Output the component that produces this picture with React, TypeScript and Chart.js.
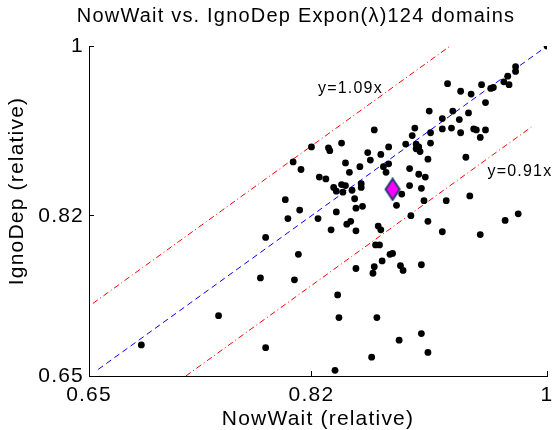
import React, { useEffect, useRef } from 'react';
import { Chart, registerables } from 'chart.js';

Chart.register(...registerables);

const titleText = 'NowWait vs. IgnoDep Expon(λ)124 domains';
const xLabel = 'NowWait (relative)';
const yLabel = 'IgnoDep (relative)';
const tickValues = [0.65, 0.82, 1];
const tickLabels = ['0.65', '0.82', '1'];

// NowWait (x) and IgnoDep (y) relative values, one entry per domain
const nowWait = [
  1.0, 0.976, 0.976, 0.97, 0.967, 0.971, 0.95, 0.924, 0.959, 0.957,
  0.934, 0.942, 0.953, 0.91, 0.928, 0.94, 0.92, 0.933, 0.899, 0.92,
  0.927, 0.944, 0.946, 0.953, 0.868, 0.934, 0.911, 0.897, 0.949, 0.892,
  0.911, 0.843, 0.9, 0.902, 0.82, 0.833, 0.834, 0.879, 0.9, 0.903,
  0.863, 0.873, 0.865, 0.909, 0.938, 0.812, 0.857, 0.879, 0.875, 0.846,
  0.849, 0.895, 0.826, 0.831, 0.877, 0.902, 0.907, 0.837, 0.843, 0.846,
  0.858, 0.895, 0.839, 0.844, 0.851, 0.858, 0.904, 0.889, 0.941, 0.923,
  0.906, 0.853, 0.885, 0.859, 0.854, 0.839, 0.978, 0.968, 0.825, 0.85,
  0.847, 0.909, 0.896, 0.835, 0.854, 0.871, 0.873, 0.92, 0.949, 0.81,
  0.869, 0.872, 0.88, 0.882, 0.874, 0.904, 0.854, 0.868, 0.867, 0.888,
  0.89, 0.84, 0.841, 0.87, 0.904, 0.887, 0.909, 0.866, 0.838, 0.8,
  0.811, 0.802, 0.785, 0.781, 0.807, 0.749, 0.69, 0.785, 0.806,
];
const ignoDep = [
  1.0, 0.978, 0.973, 0.968, 0.962, 0.959, 0.959, 0.96, 0.956, 0.955,
  0.952, 0.949, 0.94, 0.931, 0.931, 0.929, 0.923, 0.922, 0.913, 0.912,
  0.913, 0.912, 0.911, 0.911, 0.911, 0.908, 0.908, 0.905, 0.903, 0.896,
  0.897, 0.897, 0.896, 0.893, 0.893, 0.892, 0.889, 0.893, 0.891, 0.888,
  0.887, 0.885, 0.879, 0.88, 0.882, 0.869, 0.872, 0.875, 0.872, 0.876,
  0.866, 0.87, 0.861, 0.859, 0.866, 0.864, 0.861, 0.85, 0.853, 0.852,
  0.854, 0.852, 0.846, 0.845, 0.847, 0.85, 0.849, 0.843, 0.841, 0.836,
  0.836, 0.838, 0.831, 0.83, 0.828, 0.824, 0.822, 0.815, 0.817, 0.814,
  0.811, 0.814, 0.82, 0.805, 0.804, 0.809, 0.805, 0.803, 0.8, 0.779,
  0.789, 0.789, 0.779, 0.78, 0.772, 0.768, 0.764, 0.766, 0.759, 0.767,
  0.762, 0.736, 0.712, 0.712, 0.695, 0.688, 0.675, 0.67, 0.656, 0.837,
  0.826, 0.817, 0.797, 0.754, 0.752, 0.714, 0.683, 0.68, 0.877,
];

// mean point (magenta diamond)
const meanX = [0.882];
const meanY = [0.848];

// reference lines
const diagX = [0.657, 1.0];
const diagY = [0.657, 1.0];
const upperX = [0.653, 0.926];
const upperY = [0.727, 1.0];
const lowerX = [0.724, 0.988];
const lowerY = [0.65, 0.914];

const upperText = 'y=1.09x';
const upperTextAt = [0.825, 0.9505];
const lowerText = 'y=0.91x';
const lowerTextAt = [0.9545, 0.862];

const FONT = '"Liberation Sans", Arial, Helvetica, sans-serif';

const toPts = (xs: number[], ys: number[]) => xs.map((x, i) => ({ x, y: ys[i] }));

const textPlugin = {
  id: 'matlabText',
  beforeDraw(chart: any) {
    (chart.ctx as any).letterSpacing = '1.2px';
  },
  afterDraw(chart: any) {
    const ctx = chart.ctx as CanvasRenderingContext2D;
    const xs = chart.scales.x;
    const ys = chart.scales.y;
    const ca = chart.chartArea;
    ctx.save();
    (ctx as any).letterSpacing = '1.2px';
    ctx.fillStyle = '#000';
    // title
    ctx.font = `20px ${FONT}`;
    ctx.textAlign = 'center';
    ctx.textBaseline = 'alphabetic';
    ctx.fillText(titleText, (ca.left + ca.right) / 2 - 22, 22);
    // y label
    ctx.save();
    ctx.translate(23, (ca.top + ca.bottom) / 2 - 20);
    ctx.rotate(-Math.PI / 2);
    ctx.font = `21px ${FONT}`;
    ctx.fillText(yLabel, 0, 0);
    ctx.restore();
    // line labels
    ctx.font = `16px ${FONT}`;
    ctx.textAlign = 'left';
    ctx.fillText(upperText, xs.getPixelForValue(upperTextAt[0]), ys.getPixelForValue(upperTextAt[1]));
    ctx.fillText(lowerText, xs.getPixelForValue(lowerTextAt[0]), ys.getPixelForValue(lowerTextAt[1]));
    ctx.restore();
  },
};

export default function App() {
  const ref = useRef<HTMLCanvasElement>(null);
  useEffect(() => {
    const canvas = ref.current!;
    const diamond = document.createElement('canvas');
    diamond.width = 18;
    diamond.height = 24;
    const d = diamond.getContext('2d')!;
    d.beginPath();
    d.moveTo(9, 1.5);
    d.lineTo(16, 12);
    d.lineTo(9, 22.5);
    d.lineTo(2, 12);
    d.closePath();
    d.fillStyle = '#ff00ff';
    d.fill();
    d.lineWidth = 2;
    d.strokeStyle = '#1b3a6b';
    d.stroke();

    const tickCb = (v: any) => {
      const i = tickValues.findIndex((t) => Math.abs(t - Number(v)) < 1e-9);
      return i >= 0 ? tickLabels[i] : '';
    };

    const chart = new Chart(canvas, {
      type: 'scatter',
      data: {
        datasets: [
          {
            label: 'mean',
            data: toPts(meanX, meanY),
            pointStyle: diamond as any,
            pointRadius: 10,
            order: 0,
          },
          {
            label: 'domains',
            data: toPts(nowWait, ignoDep),
            backgroundColor: '#000',
            borderColor: '#000',
            borderWidth: 0,
            pointRadius: 3.4,
            order: 1,
          },
          {
            label: 'y=x',
            data: toPts(diagX, diagY),
            showLine: true,
            pointRadius: 0,
            borderColor: '#0000ff',
            borderWidth: 1,
            borderDash: [6, 4],
            order: 2,
          },
          {
            label: upperText,
            data: toPts(upperX, upperY),
            showLine: true,
            pointRadius: 0,
            borderColor: '#ff0000',
            borderWidth: 1,
            borderDash: [6, 3, 1, 3],
            order: 2,
          },
          {
            label: lowerText,
            data: toPts(lowerX, lowerY),
            showLine: true,
            pointRadius: 0,
            borderColor: '#ff0000',
            borderWidth: 1,
            borderDash: [6, 3, 1, 3],
            order: 2,
          },
        ],
      },
      options: {
        responsive: false,
        animation: false,
        devicePixelRatio: 1,
        events: [],
        layout: { padding: { left: 0, right: 9, top: 46, bottom: 0 } },
        plugins: {
          legend: { display: false },
          tooltip: { enabled: false },
          title: { display: false },
        },
        scales: {
          x: {
            type: 'linear',
            position: 'bottom',
            min: 0.65,
            max: 1,
            afterBuildTicks: (s: any) => {
              s.ticks = tickValues.map((v) => ({ value: v }));
            },
            afterFit: (s: any) => {
              s.height = 54;
              s.paddingLeft = 0;
              s.paddingRight = 0;
            },
            grid: { drawOnChartArea: false, drawTicks: true, tickLength: -5, color: '#000' },
            border: { display: true, color: '#000', width: 1 },
            ticks: {
              padding: 12,
              color: '#000',
              autoSkip: false,
              maxRotation: 0,
              font: { family: FONT, size: 21 },
              callback: tickCb,
            },
            title: {
              display: true,
              text: xLabel,
              color: '#000',
              font: { family: FONT, size: 21, lineHeight: 1 },
              padding: 0,
            },
          },
          y: {
            type: 'linear',
            position: 'left',
            min: 0.65,
            max: 1,
            afterBuildTicks: (s: any) => {
              s.ticks = tickValues.map((v) => ({ value: v }));
            },
            afterFit: (s: any) => {
              s.width = 89;
              s.paddingTop = 0;
              s.paddingBottom = 0;
            },
            grid: { drawOnChartArea: false, drawTicks: true, tickLength: -5, color: '#000' },
            border: { display: true, color: '#000', width: 1 },
            ticks: {
              padding: 10,
              color: '#000',
              autoSkip: false,
              font: { family: FONT, size: 21 },
              callback: tickCb,
            },
          },
        },
      } as any,
      plugins: [textPlugin as any],
    });
    return () => chart.destroy();
  }, []);

  return (
    <div
      style={{
        position: 'fixed',
        left: 0,
        top: 0,
        width: 558,
        height: 430,
        overflow: 'hidden',
        background: '#fff',
      }}
    >
      <canvas ref={ref} width={558} height={430} style={{ display: 'block' }} />
    </div>
  );
}
